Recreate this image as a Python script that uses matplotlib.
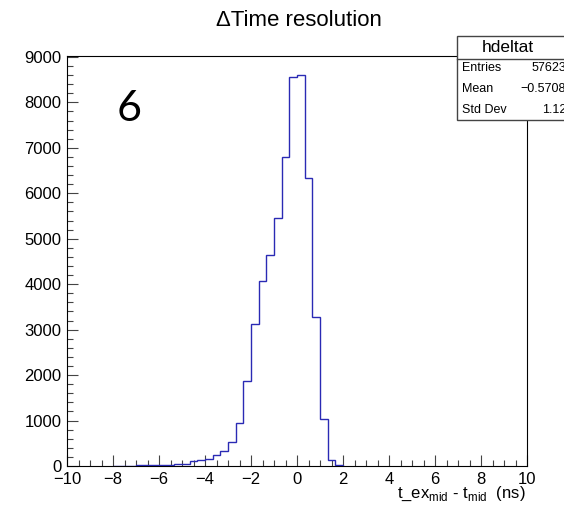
import numpy as np
import matplotlib
matplotlib.use("Agg")
import matplotlib.pyplot as plt
from matplotlib.ticker import MultipleLocator

# histogram hdeltat: 1/3 ns bins, only the filled range -8 .. 2 ns
bin_lo = -8.0
bin_width = 1.0 / 3.0
counts = [10, 10, 10, 20, 20, 20, 30, 30, 50, 50,
          100, 130, 150, 240, 340, 520, 950, 1880, 3135, 4070,
          4650, 5460, 6800, 8560, 8600, 6330, 3270, 1040, 130, 15]

title = "\u0394Time resolution"
xlabel = r"t_ex$_{\mathrm{mid}}$ - t$_{\mathrm{mid}}$  (ns)"
stat_names = ["Entries", "Mean", "Std Dev"]
stat_values = ["57623", "\u22120.5708", "1.12"]
hist_name = "hdeltat"
pad_label = "6"

W, H = 564, 505
plt.rcParams["font.family"] = ["Liberation Sans", "DejaVu Sans"]
plt.rcParams["mathtext.fontset"] = "custom"
plt.rcParams["mathtext.rm"] = "Liberation Sans"
fig = plt.figure(figsize=(W / 100, H / 100), dpi=100)

# plot frame in pixels: x 67..527, y 56..466
ax = fig.add_axes([67 / W, 1 - 466 / H, 460 / W, 410 / H])

edges = bin_lo + bin_width * np.arange(len(counts) + 1)
ax.stairs(counts, edges, color="#2a2ab4", linewidth=1.0, zorder=3)

ax.set_xlim(-10, 10)
ax.set_ylim(0, 9020)
ax.xaxis.set_major_locator(MultipleLocator(2))
ax.xaxis.set_minor_locator(MultipleLocator(0.5))
ax.yaxis.set_major_locator(MultipleLocator(1000))
ax.yaxis.set_minor_locator(MultipleLocator(200))
ax.tick_params(which="both", direction="in", top=False, right=False,
               labelsize=12, color="#444444")
ax.tick_params(which="major", length=8, width=0.8, pad=4)
ax.tick_params(which="minor", length=4, width=0.8)
for s in ax.spines.values():
    s.set_linewidth(0.8)
    s.set_color("black")

fig.text(299 / W, 1 - 20 / H, title, ha="center", va="center", fontsize=16)
fig.text(526 / W, 1 - 498 / H, xlabel, ha="right", va="baseline", fontsize=12)
fig.text(129 / W, 1 - 109 / H, pad_label, ha="center", va="center",
         fontsize=31, family=["Lato", "DejaVu Sans"])

# stats box (runs off the right edge of the canvas, like the original)
bx0, by0, by1, sep = 457, 36, 120, 59
box = plt.Rectangle((bx0 / W, 1 - by1 / H), (600 - bx0) / W, (by1 - by0) / H,
                    transform=fig.transFigure, facecolor="white",
                    edgecolor="#444444", linewidth=1.0, zorder=5)
fig.add_artist(box)
fig.add_artist(plt.Line2D([bx0 / W, 600 / W], [1 - sep / H, 1 - sep / H],
                          transform=fig.transFigure, color="#444444",
                          linewidth=1.0, zorder=6))
fig.text(508 / W, 1 - 48 / H, hist_name, ha="center", va="center",
         fontsize=12.5, zorder=7)
rows_y = [68, 89, 110]
for name, val, yy in zip(stat_names, stat_values, rows_y):
    fig.text(462 / W, 1 - yy / H, name, ha="left", va="center",
             fontsize=9, zorder=7)
    fig.text(566 / W, 1 - yy / H, val, ha="right", va="center",
             fontsize=9, zorder=7)

fig.savefig("out.png", dpi=100)
